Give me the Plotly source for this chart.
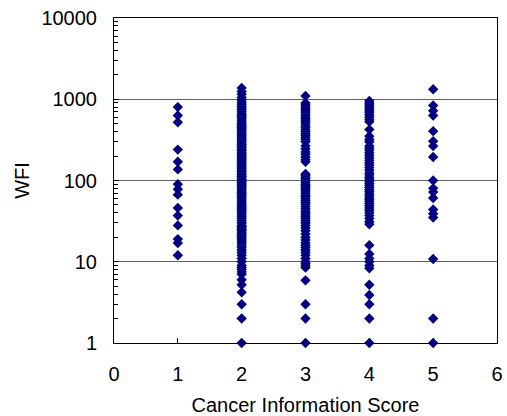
import plotly.graph_objects as go

# WFI values read for each Cancer Information Score
wfi_score1 = [800, 630, 520, 240, 170, 137, 90, 78, 67, 46, 37, 28, 19, 17, 12]
wfi_score2 = [1380, 1250, 1150, 1050, 980, 920, 870, 820, 780, 740, 700, 660, 630, 600,
              570, 540, 510, 490, 470, 450, 430, 410, 390, 370, 355, 340, 325, 310, 295,
              280, 268, 255, 243, 232, 220, 210, 200, 190, 182, 175, 168, 160, 153, 146,
              140, 134, 128, 122, 117, 112, 107, 102, 98, 94, 90, 86, 82, 78, 74, 71, 68,
              65, 62, 59, 56, 53, 50, 48, 46, 44, 42, 40, 38, 36, 34, 32, 30, 28, 27, 26,
              25, 24, 23, 22, 21, 20, 19, 18, 17, 16, 15, 14, 13, 12, 11, 10, 9, 8.5, 8,
              7.5, 7, 6, 5.2, 4.2, 3, 2, 1]
wfi_score3 = [1100, 900, 850, 800, 760, 720, 680, 640, 600, 570, 540, 510, 480, 450, 420,
              400, 380, 360, 340, 320, 300, 265, 245, 225, 210, 195, 180, 170, 120, 115,
              110, 105, 100, 95, 90, 86, 82, 78, 74, 70, 66, 63, 60, 57, 54, 51, 48, 45,
              42, 40, 38, 36, 34, 32, 30, 28, 26, 24, 22, 20, 18.5, 17, 16, 15, 14, 13,
              12, 11, 10, 9.5, 9, 8.5, 5.9, 3, 2, 1]
wfi_score4 = [950, 900, 850, 800, 760, 720, 680, 640, 600, 560, 530, 425, 350, 320, 300,
              265, 250, 235, 220, 205, 190, 178, 165, 155, 145, 135, 125, 118, 110, 104,
              98, 92, 87, 82, 77, 73, 69, 65, 61, 58, 55, 52, 49, 46, 43, 40, 37, 34, 31,
              29, 16, 12.5, 11, 10, 9, 8.3, 5.2, 3.9, 3, 2, 1]
wfi_score5 = [1330, 840, 720, 630, 405, 305, 265, 195, 100, 80, 72, 61, 44, 39, 35, 10.8, 2, 1]

scores = [1, 2, 3, 4, 5]
groups = [wfi_score1, wfi_score2, wfi_score3, wfi_score4, wfi_score5]

xs, ys = [], []
for s, g in zip(scores, groups):
    xs += [s] * len(g)
    ys += g

x_ticks = [0, 1, 2, 3, 4, 5, 6]
y_ticks = [1, 10, 100, 1000, 10000]
y_ticktext = ["1", "10", "100", "1000", "10000"]

fig = go.Figure()
fig.add_trace(go.Scatter(
    x=xs, y=ys, mode="markers",
    marker=dict(symbol="diamond", size=8, color="#000080", line=dict(width=0)),
    showlegend=False, cliponaxis=False,
))

font = dict(family="Liberation Sans, Arial, sans-serif", size=20, color="black")

fig.update_layout(
    width=507, height=416,
    margin=dict(l=114, r=10, t=18, b=73),
    paper_bgcolor="white", plot_bgcolor="white",
    font=font,
    xaxis=dict(
        range=[0, 6], tickvals=x_ticks, ticks="inside", ticklen=5, tickcolor="black",
        showline=True, linecolor="black", linewidth=1, mirror=True,
        showgrid=False, zeroline=False, ticklabelstandoff=13, automargin=False,
        title=dict(text="Cancer Information Score", standoff=18, font=font),
    ),
    yaxis=dict(
        type="log", range=[0, 4], tickvals=y_ticks, ticktext=y_ticktext,
        ticks="inside", ticklen=5, tickcolor="black",
        minor=dict(ticks="inside", ticklen=4, tickcolor="black", dtick="D1", showgrid=False),
        showline=True, linecolor="black", linewidth=1, mirror=True,
        showgrid=True, gridcolor="#606060", gridwidth=1, zeroline=False,
        ticklabelstandoff=12, automargin=False,
        title=dict(text="WFI", standoff=6, font=font),
    ),
)

fig.write_html("out.html", config={"displayModeBar": False},
               post_script="document.body.style.margin='0';document.body.style.overflow='hidden';")
